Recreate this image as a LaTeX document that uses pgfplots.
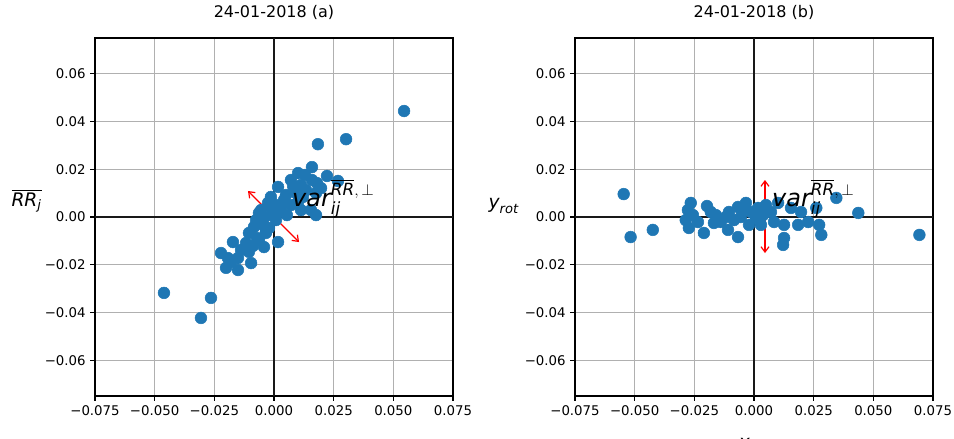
\documentclass[border=0pt]{standalone}
\usepackage{amsmath}
\usepackage{fontspec}
\setmainfont{DejaVu Sans}
\usepackage{pgfplots}
\pgfplotsset{compat=1.18}
\usetikzlibrary{arrows.meta}
\definecolor{mplblue}{HTML}{1F77B4}
\definecolor{mplgrid}{HTML}{B0B0B0}
\pgfplotsset{myax/.style={
  set layers,
  scale only axis, width=268.5pt, height=268.5pt,
  xmin=-0.075, xmax=0.075, ymin=-0.075, ymax=0.075,
  scaled ticks=false,
  xtick={-0.075,-0.05,-0.025,0,0.025,0.05,0.075},
  xticklabels={−0.075,−0.050,−0.025,0.000,0.025,0.050,0.075},
  ytick={-0.06,-0.04,-0.02,0,0.02,0.04,0.06},
  yticklabels={−0.06,−0.04,−0.02,0.00,0.02,0.04,0.06},
  tick align=outside, xtick pos=bottom, ytick pos=left,
  major tick length=3.5pt,
  tick style={black, line width=0.8pt},
  grid=major, grid style={mplgrid, line width=0.8pt},
  axis line style={line width=0.8pt},
  tick label style={font=\fontsize{10}{12}\selectfont},
  title style={font=\fontsize{12}{14}\selectfont, at={(axis description cs:0.5,1)}, anchor=south, yshift=4pt},
  xlabel style={font=\fontsize{14}{16}\selectfont, at={(axis description cs:0.5,-0.105)}, anchor=north},
}}
\pgfplotstableread{
x y
0.0545 0.0444
0.0302 0.0326
0.0184 0.0305
0.0159 0.0209
0.0101 0.0184
0.0130 0.0176
0.0222 0.0172
0.0268 0.0151
0.0159 0.0155
0.0180 0.0142
0.0017 0.0126
0.0080 0.0130
-0.0013 0.0084
0.0176 0.0100
0.0121 0.0084
0.0042 0.0071
0.0101 0.0063
-0.0054 0.0029
0.0029 0.0038
-0.0013 0.0042
0.0176 0.0008
0.0155 0.0029
-0.0075 -0.0013
-0.0063 0.0017
-0.0025 0.0059
-0.0042 -0.0004
-0.0084 -0.0042
-0.0105 -0.0067
-0.0034 -0.0067
-0.0172 -0.0105
-0.0117 -0.0109
0.0017 -0.0105
-0.0042 -0.0126
-0.0105 -0.0146
-0.0222 -0.0151
-0.0193 -0.0172
-0.0151 -0.0172
-0.0096 -0.0193
-0.0201 -0.0213
-0.0151 -0.0222
-0.0461 -0.0318
-0.0264 -0.0339
-0.0306 -0.0423
0.0008 0.0050
0.0050 0.0092
0.0071 0.0050
0.0113 0.0029
-0.0046 -0.0033
-0.0013 0.0008
0.0021 0.0021
-0.0071 -0.0088
-0.0021 -0.0046
-0.0063 -0.0096
-0.0138 -0.0138
0.0134 0.0113
0.0197 0.0121
0.0071 0.0155
0.0054 0.0008
0.0008 -0.0013
0.0092 0.0100
0.0113 0.0134
-0.0034 -0.0063
-0.0088 -0.0121
-0.0180 -0.0188
}\dataA
\pgfplotstableread{
x y
-0.0546 0.0096
-0.0517 -0.0084
-0.0424 -0.0054
-0.0265 0.0059
-0.0277 0.0029
-0.0197 0.0046
-0.0286 -0.0013
-0.0273 -0.0046
-0.0235 -0.0021
-0.0210 -0.0067
-0.0160 0.0008
-0.0168 -0.0025
-0.0109 -0.0054
-0.0067 -0.0084
-0.0105 0.0021
-0.0067 0.0042
-0.0034 0.0059
-0.0084 -0.0013
-0.0055 0.0000
-0.0139 -0.0021
-0.0050 0.0029
0.0017 0.0038
-0.0013 0.0021
0.0008 -0.0004
0.0038 0.0008
0.0050 0.0050
0.0084 -0.0021
0.0071 0.0021
0.0101 0.0059
0.0126 -0.0033
0.0126 -0.0088
0.0122 -0.0117
0.0185 -0.0033
0.0227 -0.0021
0.0261 0.0038
0.0273 -0.0033
0.0282 -0.0075
0.0345 0.0080
0.0437 0.0017
0.0693 -0.0075
0.0155 0.0038
0.0197 0.0021
-0.0021 -0.0033
0.0029 -0.0033
-0.0118 0.0000
-0.0181 0.0021
-0.0256 0.0008
}\dataB
\begin{document}
\begin{tikzpicture}
\begin{axis}[myax, at={(71.25pt,32.25pt)},
  title={24-01-2018 (a)},
  xlabel={$\overline{\textit{RR}_{\textit{i}}}$},
  ylabel={$\overline{\textit{RR}_{\textit{j}}}$},
  ylabel style={rotate=-90, font=\fontsize{14}{16}\selectfont, at={(axis description cs:-0.148,0.545)}, anchor=east, inner sep=0pt}]
\addplot[only marks, color=mplblue, mark=*, mark size=4.4pt, mark options={draw=mplblue, fill=mplblue}] table[x=x,y=y] {\dataA};
\addplot[black!90, line width=2pt] coordinates {(-0.075,0) (0.075,0)};
\addplot[black!90, line width=2pt] coordinates {(0,-0.075) (0,0.075)};
\addplot[red, line width=0.9pt, {Straight Barb[length=4pt,width=6pt]}-{Straight Barb[length=4pt,width=6pt]}] coordinates {(-0.0109,0.0109) (0.0105,-0.0105)};
\begin{pgfonlayer}{axis foreground}
\node[anchor=base west, inner sep=0pt, font=\fontsize{18}{20}\selectfont] at (axis cs:0.0075,0.0045) {$\textit{var}_{\textit{ij}}^{\overline{\textit{RR}},\,\perp}$};
\end{pgfonlayer}
\end{axis}
\begin{axis}[myax, at={(431.25pt,32.25pt)},
  title={24-01-2018 (b)},
  xlabel={$\textit{x}_{\textit{rot}}$},
  ylabel={$\textit{y}_{\textit{rot}}$},
  ylabel style={rotate=-90, font=\fontsize{14}{16}\selectfont, at={(axis description cs:-0.156,0.53)}, anchor=east, inner sep=0pt}]
\addplot[only marks, color=mplblue, mark=*, mark size=4.4pt, mark options={draw=mplblue, fill=mplblue}] table[x=x,y=y] {\dataB};
\addplot[black!90, line width=2pt] coordinates {(-0.075,0) (0.075,0)};
\addplot[black!90, line width=2pt] coordinates {(0,-0.075) (0,0.075)};
\addplot[red, line width=0.9pt, {Straight Barb[length=4pt,width=6pt]}-{Straight Barb[length=4pt,width=6pt]}] coordinates {(0.0046,0.0155) (0.0046,-0.0151)};
\begin{pgfonlayer}{axis foreground}
\node[anchor=base west, inner sep=0pt, font=\fontsize{18}{20}\selectfont] at (axis cs:0.0075,0.0045) {$\textit{var}_{\textit{ij}}^{\overline{\textit{RR}},\,\perp}$};
\end{pgfonlayer}
\end{axis}
\pgfresetboundingbox
\path[use as bounding box] (0,0) rectangle (715.5pt,329.25pt);
\end{tikzpicture}
\end{document}
